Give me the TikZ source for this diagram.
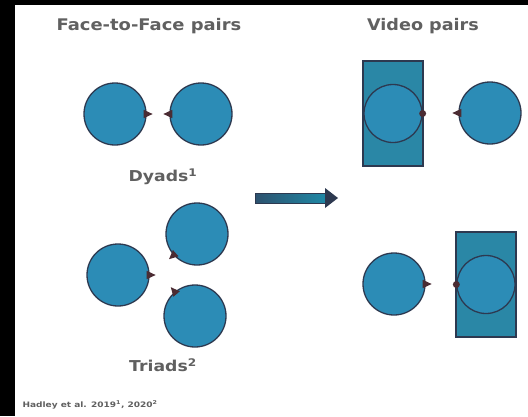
\documentclass[tikz,border=0pt]{standalone}
\usepackage{fontspec}
\setmainfont{DejaVu Sans}
\usetikzlibrary{calc}
\definecolor{facefill}{HTML}{2C8CB6}
\definecolor{screenfill}{HTML}{2A87A6}
\definecolor{edge}{HTML}{2D3950}
\definecolor{nose}{HTML}{4B2C33}
\definecolor{label}{HTML}{606060}
\tikzset{
  person/.style={circle, draw=edge, line width=1.3pt, fill=facefill, minimum size=62pt, inner sep=0pt},
  screen/.style={rectangle, draw=edge, line width=1.3pt, fill=screenfill, minimum width=60pt, minimum height=105pt, inner sep=0pt},
  onscreen/.style={circle, draw=edge, line width=1.3pt, fill=facefill, minimum size=58pt, inner sep=0pt},
  heading/.style={text=label, font=\bfseries\fontsize{16}{18}\selectfont},
  caption/.style={text=label, font=\bfseries\fontsize{15}{17}\selectfont},
  credit/.style={text=label, font=\bfseries\fontsize{7.5}{8}\selectfont, anchor=west}
}
% small pointer showing which way a face looks
\newcommand{\facing}[2]{%
  \fill[nose, shift={(#1.#2)}, rotate=#2] (-3,-4.2) -- (6,0) -- (-3,4.2) -- cycle;}
\begin{document}
\begin{tikzpicture}[x=1pt, y=-1pt]
  \fill[black] (0,0) rectangle (528,416);
  \fill[white] (15,5) rectangle (528,416);
  \useasboundingbox (0,0) rectangle (528,416);

  % headings
  \node[heading] (hff) at (149,26) {\scalebox{1.12}[1]{Face-to-Face pairs}};
  \node[heading] (hvid) at (423,26) {\scalebox{1.1}[1]{Video pairs}};

  % face-to-face dyad
  \node[person] (d1) at (115,114) {};
  \node[person] (d2) at (201,114) {};
  \facing{d1}{0}
  \facing{d2}{180}
  \node[caption] (ldy) at (163,177) {\scalebox{1.15}[1]{Dyads\textsuperscript{1}}};

  % face-to-face triad
  \node[person] (t1) at (197,234) {};
  \node[person] (t2) at (118,275) {};
  \node[person] (t3) at (195,316) {};
  \facing{t1}{222}
  \facing{t2}{0}
  \facing{t3}{130}
  \node[caption] (ltr) at (163,365) {\scalebox{1.15}[1]{Triads\textsuperscript{2}}};

  % transition arrow
  \coordinate (as) at (255,198);
  \coordinate (ae) at (326,198);
  \shade[left color=edge!70!facefill, right color=facefill!70!teal, draw=edge, line width=0.8pt]
    ($(as)+(0,-5)$) rectangle ($(ae)+(0,5)$);
  \fill[edge] ($(ae)+(-1,-10)$) -- ($(ae)+(12,0)$) -- ($(ae)+(-1,10)$) -- cycle;

  % video dyad, screen on the left
  \node[screen] (s1) at (393,113.5) {};
  \node[onscreen] (v1) at (s1.center) {};
  \fill[nose] (v1.east) circle (3.5);
  \node[person] (p1) at (490,113) {};
  \facing{p1}{180}

  % video dyad, screen on the right
  \node[person] (p2) at (394,284) {};
  \facing{p2}{0}
  \node[screen] (s2) at (486,284.5) {};
  \node[onscreen] (v2) at (s2.center) {};
  \fill[nose] (v2.west) circle (3.5);

  % sources
  \node[credit] (src) at (19,405) {\scalebox{1.2}[1]{Hadley et al. 2019\textsuperscript{1}, 2020\textsuperscript{2}}};
\end{tikzpicture}
\end{document}
